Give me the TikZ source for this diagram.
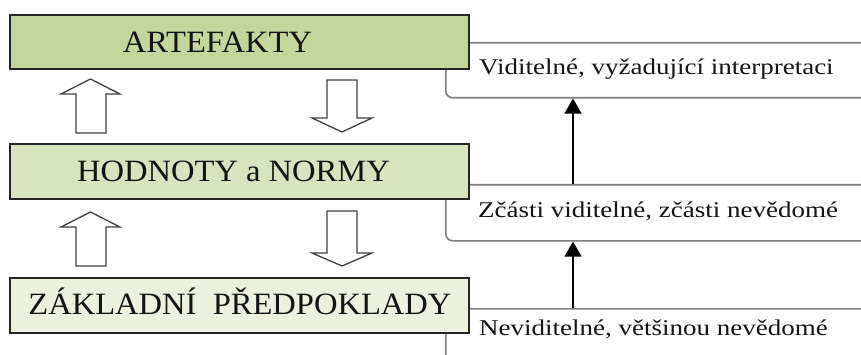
\documentclass[tikz,border=0pt]{standalone}
\usepackage{fontspec}
\setmainfont{Liberation Serif}
\newfontfamily\bigfam[FakeStretch=1.05]{Liberation Serif}
\newfontfamily\smallfam[FakeStretch=1.2]{Liberation Serif}
\usetikzlibrary{arrows.meta}
\definecolor{gA}{HTML}{C3D69B}
\definecolor{gB}{HTML}{D7E4BD}
\definecolor{gC}{HTML}{EBF1DE}
\definecolor{brk}{HTML}{7F7F7F}
\definecolor{txt}{HTML}{141414}
\tikzset{
  layerbox/.style={draw=black!85, line width=1.4pt, minimum width=459pt, inner sep=0pt},
  bigtext/.style={font=\bigfam\fontsize{31}{31}\selectfont, text=txt, inner sep=0pt, anchor=base},
  bracket/.style={draw=brk, line width=1.6pt, rounded corners=7pt, minimum width=480pt, inner sep=0pt, anchor=north west},
  smalltext/.style={font=\smallfam\fontsize{22.5}{22.5}\selectfont, text=txt, inner sep=0pt, anchor=base west},
  hollow/.style={draw=black!75, fill=white, line width=1.3pt, line join=miter},
  uparrow/.style={draw=black, line width=1.5pt, -{Triangle[length=15pt,width=17pt]}}
}
\begin{document}
\begin{tikzpicture}[x=1pt,y=-1pt]
\useasboundingbox (0,0) rectangle (861,355);
\clip (0,0) rectangle (861,355);
\fill[white] (0,0) rectangle (861,355);
% brackets (behind boxes)
\node[bracket, minimum height=55pt] (b1) at (445,42) {};
\node[bracket, minimum height=56pt] (b2) at (445,184) {};
\node[bracket, minimum height=70pt] (b3) at (445,308) {};
% layer boxes
\node[layerbox, fill=gA, minimum height=54pt] (art) at (239.5,42) {};
\node[layerbox, fill=gB, minimum height=55pt] (hod) at (239.5,171.5) {};
\node[layerbox, fill=gC, minimum height=55pt] (zak) at (239.5,305.5) {};
\node[bigtext] (tart) at (217.5,53) {ARTEFAKTY};
\node[bigtext] (thod) at (233.5,182) {HODNOTY a NORMY};
\node[bigtext] (tzak) at (240,314) {ZÁKLADNÍ\ \ PŘEDPOKLADY};
% bracket texts
\node[smalltext] (s1) at (479,75) {Viditelné, vyžadující interpretaci};
\node[smalltext] (s2) at (478,218) {Zčásti viditelné, zčásti nevědomé};
\node[smalltext] (s3) at (479,335) {Neviditelné, většinou nevědomé};
% vertical arrows
\coordinate (ax) at (573,0);
\draw[uparrow] (b2.north -| ax) -- (b1.south -| ax);
\draw[uparrow] (b3.north -| ax) -- (b2.south -| ax);
% hollow arrows
\draw[hollow] (76,133) -- (76,94) -- (61,94) -- (90.5,79) -- (120,94) -- (106,94) -- (106,133) -- cycle;
\draw[hollow] (76,266) -- (76,227) -- (61,227) -- (90.5,212) -- (120,227) -- (106,227) -- (106,266) -- cycle;
\draw[hollow] (327,80) -- (327,118) -- (312,118) -- (342,132) -- (372,118) -- (357,118) -- (357,80) -- cycle;
\draw[hollow] (327,211) -- (327,253) -- (312,253) -- (342,266) -- (372,253) -- (357,253) -- (357,211) -- cycle;
\end{tikzpicture}
\end{document}
